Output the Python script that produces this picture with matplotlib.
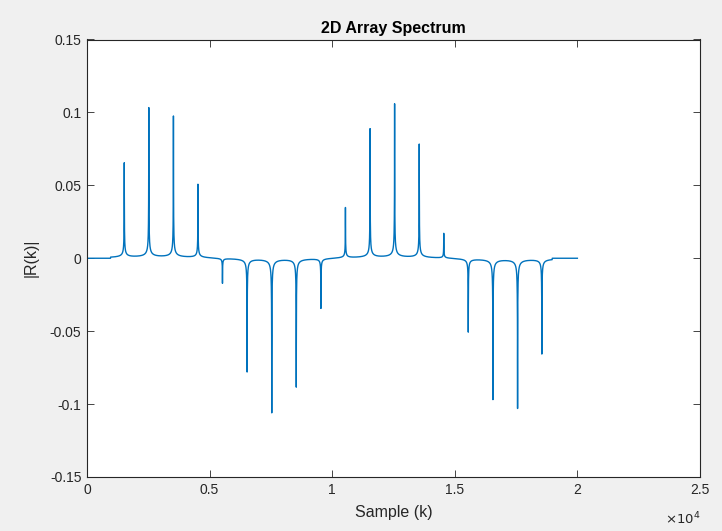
import numpy as np
import matplotlib
matplotlib.use("Agg")
import matplotlib.pyplot as plt

# ---- data ----
n_samples = 20000
signal_start = 960
signal_end = 18970
peak_positions = [1520, 2520, 3525, 4525, 5525, 6530, 7535, 8535, 9540,
                  10540, 11545, 12545, 13550, 14550, 15550, 16555, 17560, 18550]
peak_heights = [0.065, 0.1028, 0.0971, 0.0505, -0.0172, -0.0778, -0.1057, -0.0881, -0.0343,
                0.0347, 0.0886, 0.1056, 0.0781, 0.0171, -0.0504, -0.0965, -0.1025, -0.0652]
peak_width = 4.0

title = "2D Array Spectrum"
xlabel = "Sample (k)"
ylabel = "|R(k)|"
x_ticks = [0, 5000, 10000, 15000, 20000, 25000]
x_ticklabels = ["0", "0.5", "1", "1.5", "2", "2.5"]
y_ticks = [-0.15, -0.1, -0.05, 0, 0.05, 0.1, 0.15]
y_ticklabels = ["-0.15", "-0.1", "-0.05", "0", "0.05", "0.1", "0.15"]

# ---- build the spectrum line from the peak list ----
k = np.arange(n_samples)
r = np.zeros(n_samples)
for p, h in zip(peak_positions, peak_heights):
    r += h * peak_width / (np.abs(k - p) + peak_width)
r[(k < signal_start) | (k > signal_end)] = 0.0

plt.rcParams['font.family'] = ['Liberation Sans', 'DejaVu Sans']
fig = plt.figure(figsize=(7.22, 5.31), dpi=100, facecolor='#f0f0f0')
ax = fig.add_axes([87/722, 1 - 477/531, (700-87)/722, (477-39.5)/531])
ax.set_facecolor('white')
ax.plot(k, r, color='#0072BD', lw=1.0)

ax.set_xlim(0, 25000)
ax.set_ylim(-0.15, 0.15)
ax.set_xticks(x_ticks)
ax.set_xticklabels(x_ticklabels)
ax.set_yticks(y_ticks)
ax.set_yticklabels(y_ticklabels)
ax.tick_params(direction='in', top=True, right=True, length=5, width=0.6,
               colors='#262626', labelsize=10, labelcolor='#262626', pad=4)
for s in ax.spines.values():
    s.set_color('#262626')
    s.set_linewidth(0.8)

ax.set_title(title, fontsize=11.5, fontweight='bold', color='black', pad=5)
ax.set_xlabel(xlabel, fontsize=11.5, color='#262626', labelpad=6)
ax.set_ylabel(ylabel, fontsize=11.5, color='#262626', labelpad=8)
ax.text(1.0, -0.078, r"$\times 10^{4}$", transform=ax.transAxes, ha='right', va='top',
        fontsize=9.5, color='#262626')

fig.savefig("out.png", dpi=100, facecolor=fig.get_facecolor())
